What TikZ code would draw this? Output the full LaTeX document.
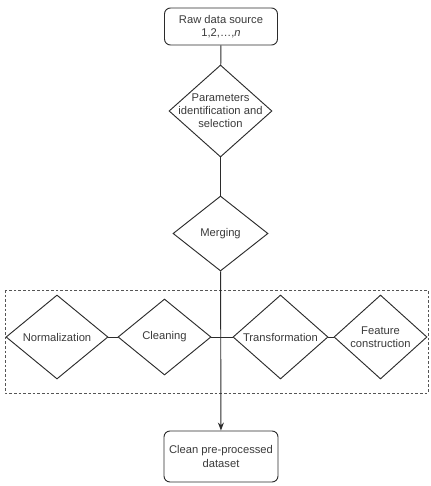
\documentclass[tikz,border=0pt]{standalone}
\usepackage{fontspec}
\setmainfont{Liberation Sans}
\usetikzlibrary{arrows.meta, positioning, shapes.geometric}
\definecolor{lineclr}{HTML}{2B2B2B}
\definecolor{textclr}{HTML}{3A3A3A}

\begin{document}
\begin{tikzpicture}[
    x=0.75pt, y=-0.75pt,
    line width=0.7pt, draw=lineclr,
    lbl/.style={font=\fontsize{8.4}{9.8}\selectfont, text=textclr, align=center},
    box/.style n args={2}{draw=lineclr, rounded corners=4.5pt, minimum width=#1, minimum height=#2, inner sep=0pt, lbl},
    dia/.style n args={3}{diamond, draw=lineclr, minimum width=#1, minimum height=#2, inner sep=0pt, label={[lbl]center:#3}},
    link/.style={draw=lineclr, line width=0.7pt},
]
    \useasboundingbox (0,0) rectangle (431,486);

    % top of the chain
    \node[box={84.75pt}{27.75pt}] (raw) at (221, 26.5) {Raw data source\\1,2,\ldots,\textit{n}};
    \node[dia={77.25pt}{69pt}{Parameters\\identification and\\selection}] (param) at (220.5, 111) {};
    \node[dia={71.25pt}{56.25pt}{Merging}] (merge) at (220.5, 233.5) {};

    % pre-processing steps
    \draw[dash pattern=on 2pt off 1.5pt, line width=0.6pt, draw=lineclr!80] (5, 290) rectangle (428, 393);
    \node[dia={76.5pt}{63pt}{Normalization}] (norm) at (57, 337) {};
    \node[dia={69.75pt}{57pt}{Cleaning}] (clean) at (164.5, 337) {};
    \node[dia={71.25pt}{63pt}{Transformation}] (trans) at (280.5, 337) {};
    \node[dia={69.75pt}{63pt}{Feature\\construction}] (feat) at (380.5, 337) {};

    \node[box={85.5pt}{38.25pt}] (clean data) at (221, 456.5) {Clean pre-processed\\dataset};

    \draw[link] (raw) -- (param);
    \draw[link] (param) -- (merge);
    \draw[link] (norm) -- (clean);
    \draw[link] (clean) -- (trans);
    \draw[link] (trans) -- (feat);
    \draw[link, -{Stealth[length=6pt, width=4.5pt]}] (merge) -- (clean data);
\end{tikzpicture}
\end{document}
